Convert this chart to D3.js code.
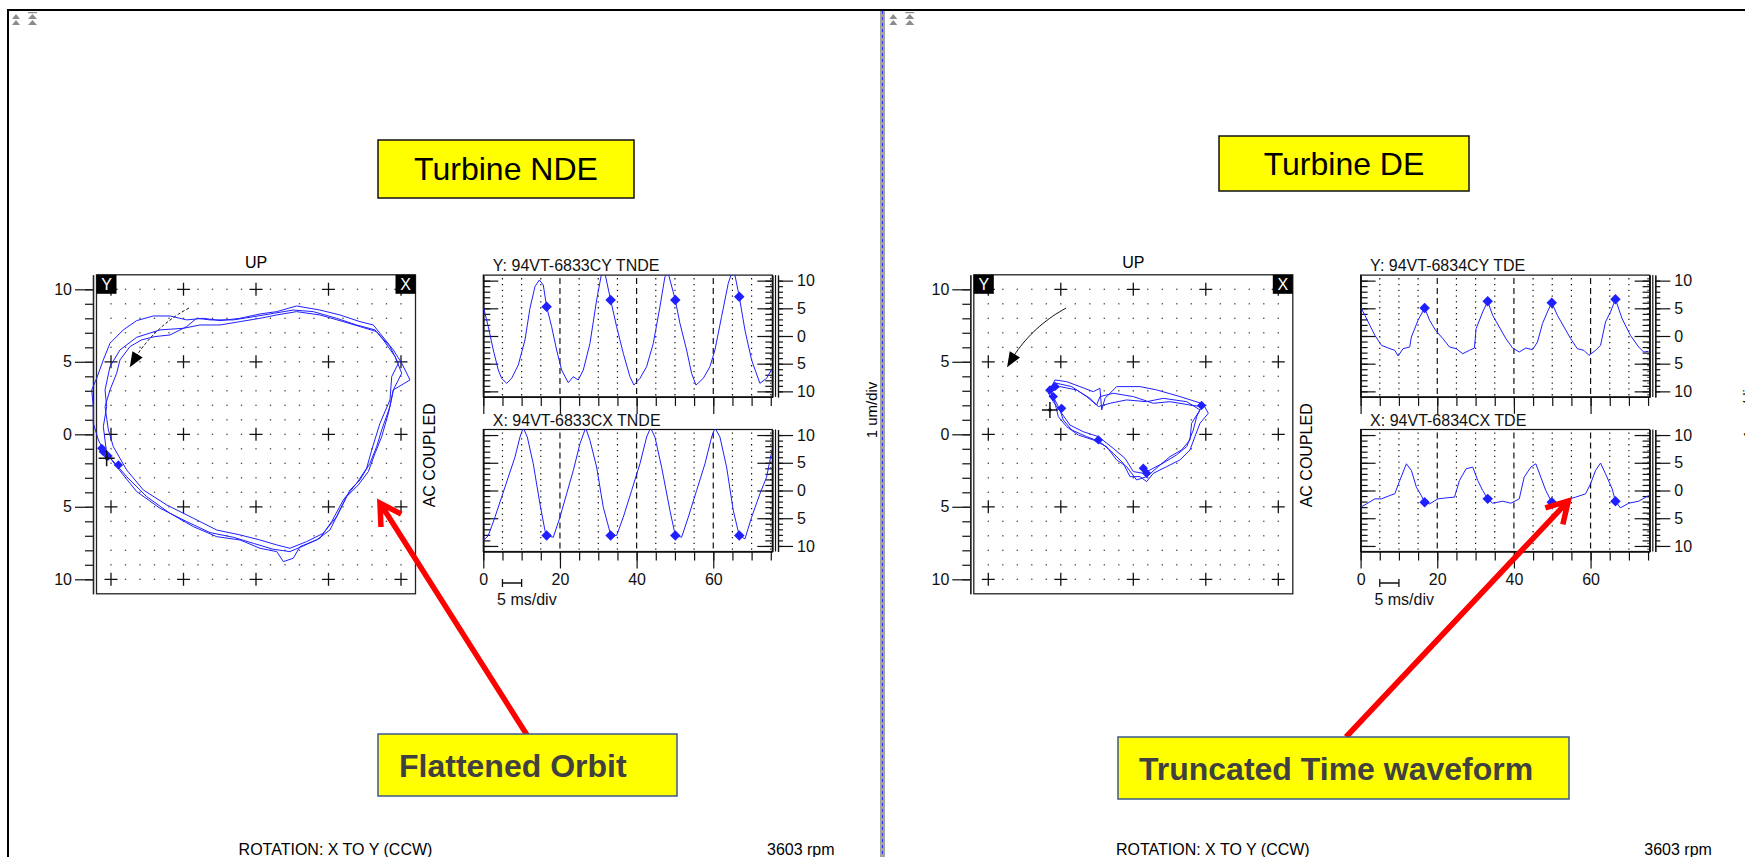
<!DOCTYPE html>
<html>
<head>
<meta charset="utf-8">
<script src="https://cdn.jsdelivr.net/npm/d3@7"></script>
<style>
  html, body { margin: 0; padding: 0; background: #fff; }
  svg { display: block; font-family: "Liberation Sans", Arial, sans-serif; }
</style>
</head>
<body>
<div id="chart"></div>
<script>
// ---- labels ----
const panelNames = ["Turbine NDE", "Turbine DE"];
const channelYNames = ["Y: 94VT-6833CY TNDE", "Y: 94VT-6834CY TDE"];
const channelXNames = ["X: 94VT-6833CX TNDE", "X: 94VT-6834CX TDE"];
const calloutTexts = ["Flattened Orbit", "Truncated Time waveform"];
const rotationText = "ROTATION: X TO Y (CCW)";
const speedText = "3603 rpm";
const scaleText = "1 um/div";

// ---- tick values ----
const ampTicks = [-10, -5, 0, 5, 10];
const timeTickLabels = [0, 20, 40, 60];

// ---- Turbine NDE orbit (x, y in um), three revolutions ----
const ndeOrbitA = [[-10.53,-1.08],[-9.72,-2.0],[-8.92,-2.92],[-7.54,-4.3],[-5.93,-5.45],[-4.32,-6.37],[-2.71,-7.06],[-1.1,-7.29],[0.28,-7.86],[1.43,-8.09],[1.89,-8.78],[2.57,-8.55],[3.03,-7.75],[4.18,-7.29],[5.1,-6.6],[5.79,-5.22],[6.48,-3.84],[7.17,-3.15],[7.86,-2.0],[8.32,-0.85],[8.67,0.3],[9.24,1.91],[9.47,3.06],[10.62,3.75],[10.05,4.9],[9.47,5.82],[8.55,6.97],[8.09,7.54],[7.17,7.77],[5.79,8.23],[4.41,8.57],[2.8,8.85],[1.43,8.46],[0.28,8.3],[-1.1,8.0],[-2.48,7.84],[-3.63,8.0],[-4.78,7.89],[-5.93,8.16],[-7.08,8.16],[-8.23,7.84],[-9.15,7.2],[-10.07,6.28],[-10.53,5.13],[-10.99,3.86],[-11.33,3.06],[-11.22,1.91],[-11.22,0.76],[-10.87,-0.39]];
const ndeOrbitB = [[-10.3,-1.31],[-9.61,-2.23],[-8.23,-3.95],[-6.62,-5.1],[-4.78,-6.02],[-3.17,-6.78],[-1.56,-7.1],[-0.18,-7.52],[1.2,-7.93],[2.34,-8.09],[3.26,-7.7],[4.41,-7.17],[5.22,-6.02],[6.02,-4.53],[6.94,-3.38],[7.63,-2.34],[7.98,-1.08],[8.55,0.76],[9.24,2.37],[9.36,3.98],[9.82,4.9],[9.24,6.05],[8.32,7.08],[7.17,7.43],[6.02,7.77],[4.41,8.23],[2.8,8.46],[1.43,8.23],[0.28,8.0],[-1.1,7.77],[-2.48,7.54],[-3.86,7.54],[-5.01,7.31],[-6.62,7.2],[-8.23,6.69],[-9.38,5.82],[-10.07,4.67],[-10.41,3.06],[-10.3,1.91],[-10.53,0.53]];
const ndeOrbitC = [[-9.84,-0.85],[-8.92,-2.46],[-7.77,-3.84],[-6.16,-4.87],[-4.32,-5.79],[-2.71,-6.6],[-1.1,-6.94],[0.28,-7.29],[1.43,-7.63],[2.34,-7.86],[3.49,-7.4],[4.64,-6.83],[5.56,-5.68],[6.25,-4.3],[7.06,-3.49],[7.75,-2.57],[8.21,-1.31],[8.67,-0.16],[9.13,1.45],[9.47,3.06],[10.05,4.21],[9.59,5.36],[8.78,6.51],[8.21,7.2],[6.94,7.54],[5.56,8.0],[3.95,8.46],[2.57,8.57],[1.2,8.34],[-0.18,8.11],[-1.56,7.89],[-3.17,7.89],[-4.09,8.0],[-4.78,7.43],[-5.93,6.85],[-6.97,6.74],[-7.89,6.51],[-8.69,6.05],[-9.38,5.13],[-9.61,4.21],[-10.07,3.06],[-10.41,1.91],[-10.18,0.3]];
const ndeOrbitMarks = [[-10.64,-0.97],[-10.53,-1.2],[-10.2,-1.5],[-9.49,-2.11]];
const ndeKeyphasor = [[-10.3,-1.66]];

// ---- Turbine DE orbit ----
const deOrbitA = [[-5.75,3.06],[-5.4,3.75],[-4.6,3.63],[-3.68,3.29],[-2.76,2.94],[-2.3,3.17],[-2.18,1.68],[-1.95,2.48],[-1.15,3.29],[0.46,3.29],[1.61,3.06],[3.22,2.6],[4.83,2.09],[5.17,1.45],[4.6,0.76],[4.25,-0.16],[3.91,-1.08],[3.22,-1.77],[2.3,-2.23],[1.38,-2.69],[0.92,-3.26],[0.46,-2.92],[-0.23,-2.92],[-0.69,-2.0],[-1.38,-1.31],[-2.3,-0.51],[-3.22,-0.16],[-4.25,0.3],[-4.83,0.99],[-5.06,1.68],[-5.52,2.6]];
const deOrbitB = [[-5.98,3.06],[-5.29,3.52],[-4.25,3.29],[-3.22,2.6],[-2.53,2.02],[-2.3,2.6],[-1.38,2.83],[0.0,2.6],[1.38,2.14],[2.53,2.25],[3.91,2.02],[4.71,1.91],[4.37,1.22],[4.14,0.3],[3.68,-0.85],[2.99,-1.42],[2.07,-1.98],[1.15,-2.46],[0.69,-2.69],[0.0,-2.57],[-0.57,-1.66],[-1.38,-0.97],[-2.41,-0.16],[-3.45,0.18],[-4.37,0.64],[-4.94,1.45],[-5.52,2.25]];
const deOrbitC = [[-5.63,2.94],[-5.06,3.29],[-3.91,3.06],[-2.99,2.48],[-2.41,1.91],[-1.61,2.14],[-0.46,2.37],[0.92,2.25],[2.07,2.48],[3.68,2.25],[4.6,1.68],[4.02,0.76],[3.91,-0.39],[3.33,-1.08],[2.53,-1.54],[1.72,-2.23],[0.92,-2.92],[0.23,-3.15],[-0.46,-2.23],[-1.15,-1.77],[-1.84,-0.85],[-2.76,-0.39],[-3.79,-0.05],[-4.6,0.53],[-5.17,1.22],[-5.4,2.14]];
const deOrbitMarks = [[-5.75,3.06],[-5.4,3.3],[-5.52,2.6],[-4.94,1.79],[-2.41,-0.39],[0.69,-2.34],[0.92,-2.69],[4.71,1.99]];
const deKeyphasor = [[-5.75,1.68]];

// ---- time waveforms (ms, um) ----
const ndeWaveY = [[0,5.3],[1.3,1.69],[2.61,-2.53],[3.91,-6.14],[4.78,-7.65],[6.09,-8.55],[7.39,-7.65],[9.13,-5.24],[10.87,-0.72],[12.17,5.0],[13.48,8.92],[14.61,10.12],[15.65,9.22],[16.52,5.3],[17.83,1.69],[19.13,-2.53],[20.43,-6.14],[22.17,-8.43],[23.48,-7.35],[24.78,-7.95],[26.09,-6.14],[27.83,-1.33],[29.57,6.51],[30.87,11.3],[31.74,11.3],[33.22,6.51],[34.78,1.69],[36.52,-3.13],[38.26,-7.35],[39.3,-8.86],[40.87,-7.65],[42.61,-5.54],[44.35,-1.33],[46.09,5.3],[47.39,10.72],[48.26,11.3],[50.09,6.51],[51.3,2.29],[53.04,-2.53],[54.35,-6.75],[55.48,-8.86],[57.39,-7.65],[59.13,-5.54],[60.43,-2.53],[62.17,3.49],[63.91,9.52],[64.78,11.3],[65.65,11.0],[66.78,7.11],[68.26,1.08],[70.0,-4.34],[72.17,-8.55],[73.91,-7.65],[75.4,-5.84]];
const ndeWaveX = [[0,-9.04],[1.3,-8.13],[3.04,-4.82],[4.78,-1.2],[6.52,2.41],[8.26,6.02],[9.57,9.64],[10.43,11.3],[11.48,9.64],[13.04,4.82],[14.78,-2.41],[16.09,-7.23],[16.52,-8.13],[18.26,-8.43],[20.0,-4.82],[21.74,-0.6],[23.48,3.61],[25.22,8.43],[26.7,11.3],[27.83,9.04],[29.57,4.22],[31.3,-3.01],[33.22,-7.95],[34.78,-8.13],[36.52,-4.82],[38.7,0.0],[40.87,4.82],[42.61,9.64],[43.65,11.3],[44.78,9.64],[46.52,4.22],[48.7,-3.61],[50.09,-8.13],[51.74,-8.43],[53.48,-4.82],[55.65,0.0],[57.83,4.82],[59.57,9.64],[60.43,11.3],[61.74,9.64],[63.48,4.22],[65.22,-3.61],[66.78,-8.13],[68.26,-8.73],[70.0,-4.82],[72.17,-0.6],[73.91,2.41],[75.4,7.53]];
const ndeMarksY = [[16.52,5.3],[33.22,6.51],[50.09,6.51],[66.78,7.11]];
const ndeMarksX = [[16.52,-8.13],[33.22,-8.1],[50.09,-8.13],[66.78,-8.13]];

const deWaveY = [[0,5.24],[1.13,3.73],[2.42,1.93],[3.72,0.12],[5.45,-1.69],[7.19,-2.17],[8.92,-2.59],[9.78,-3.61],[11.08,-2.29],[12.81,-1.99],[13.25,-0.18],[14.98,2.83],[16.71,5.06],[18.01,2.83],[19.57,1.02],[21.47,-0.48],[23.2,-1.99],[24.94,-2.29],[26.67,-3.19],[28.4,-2.59],[29.7,-2.17],[30.13,1.33],[31.86,4.34],[33.16,6.27],[34.46,3.73],[36.19,1.63],[37.92,-0.48],[39.65,-2.17],[41.39,-2.89],[43.12,-2.17],[44.85,-2.47],[46.15,-1.08],[47.45,2.23],[48.74,4.34],[49.87,6.02],[51.34,3.73],[53.07,1.63],[54.81,-0.48],[56.54,-2.29],[58.27,-2.59],[59.57,-3.49],[61.3,-2.59],[62.6,-1.69],[63.9,2.53],[65.19,4.34],[66.49,6.63],[68.23,3.13],[70.39,0.12],[72.55,-1.99],[73.85,-2.89],[75.15,-2.77]];
const deWaveX = [[0,-3.01],[1.56,-2.41],[3.72,-1.51],[5.45,-1.51],[7.62,-0.9],[8.92,-0.6],[10.22,1.81],[11.95,4.82],[13.25,3.61],[14.55,0.6],[15.84,-0.9],[16.71,-2.11],[18.01,-2.41],[20.17,-1.51],[22.34,-1.33],[24.5,-1.2],[25.8,1.81],[27.53,3.92],[29.26,4.22],[30.56,1.81],[31.86,0.0],[33.16,-1.51],[34.46,-2.29],[37.06,-1.93],[39.22,-2.29],[41.39,-1.51],[42.68,2.41],[44.42,4.22],[45.71,4.82],[47.01,2.41],[48.31,0.0],[49.87,-2.11],[51.77,-2.41],[53.5,-1.69],[56.1,-1.2],[58.7,-0.6],[59.99,1.2],[61.3,3.61],[62.6,4.94],[63.9,3.01],[65.63,0.3],[66.49,-1.93],[67.79,-3.13],[69.96,-2.29],[72.55,-1.93],[75.15,-0.9]];
const deMarksY = [[16.71,5.06],[33.16,6.27],[49.87,6.02],[66.49,6.63]];
const deMarksX = [[16.71,-2.11],[33.16,-1.51],[49.87,-2.11],[66.49,-1.93]];

// ---- where the red callout arrows point (in data units) ----
const ndeCalloutTarget = [8.55, -4.74];   // orbit x, y
const deCalloutTarget = [54.2, -1.88];    // time ms, X amplitude

const TRACE = "#1f1fff";
const W = 1745, H = 857;

const svg = d3.select("#chart").append("svg")
    .attr("width", W)
    .attr("height", H);

// shared scales (panel-local coordinates)
const ox = d3.scaleLinear().domain([-11, 11]).range([96.5, 415.5]);
const oy = d3.scaleLinear().domain([-11, 11]).range([593.8, 274.8]);
const tx = d3.scaleLinear().domain([0, 75.4]).range([483.3, 772.3]);
const yUpper = d3.scaleLinear().domain([-11, 11]).range([396.9, 275.1]);
const yLower = d3.scaleLinear().domain([-11, 11]).range([551.5, 429.5]);

const panels = [
    {dx: 0, id: "nde", name: panelNames[0], titleBox: [378, 140, 256, 58],
     loops: [ndeOrbitA, ndeOrbitB, ndeOrbitC], orbitMarks: ndeOrbitMarks, kp: ndeKeyphasor, arrowDash: "3,2",
     waveY: ndeWaveY, waveX: ndeWaveX, marksY: ndeMarksY, marksX: ndeMarksX,
     nameY: channelYNames[0], nameX: channelXNames[0],
     callout: calloutTexts[0], calloutBox: [378, 734, 299, 62], calloutFrom: [527, 735],
     calloutTip: () => [ox(ndeCalloutTarget[0]), oy(ndeCalloutTarget[1])]},
    {dx: 877.3, id: "de", name: panelNames[1], titleBox: [341.7, 136, 250, 55],
     loops: [deOrbitA, deOrbitB, deOrbitC], orbitMarks: deOrbitMarks, kp: deKeyphasor, arrowDash: null,
     waveY: deWaveY, waveX: deWaveX, marksY: deMarksY, marksX: deMarksX,
     nameY: channelYNames[1], nameX: channelXNames[1],
     callout: calloutTexts[1], calloutBox: [240.7, 737, 451, 62], calloutFrom: [468.7, 737],
     calloutTip: () => [tx(deCalloutTarget[0]), yLower(deCalloutTarget[1])]}
];

// page frame
svg.append("line").attr("x1", 7).attr("x2", W).attr("y1", 10).attr("y2", 10)
    .attr("stroke", "#000").attr("stroke-width", 2);
svg.append("line").attr("x1", 8).attr("x2", 8).attr("y1", 9).attr("y2", H)
    .attr("stroke", "#000").attr("stroke-width", 2);

panels.forEach(drawPanel);

// splitter between the two panels
svg.append("rect").attr("x", 880).attr("y", 11).attr("width", 5).attr("height", H - 11)
    .attr("fill", "#a3a3a3");
svg.append("line").attr("x1", 882.5).attr("x2", 882.5).attr("y1", 11).attr("y2", H)
    .attr("stroke", "#2233ff").attr("stroke-width", 1).attr("stroke-dasharray", "3,3");

function drawIcons(g) {
    const icon = g.append("g").attr("fill", "#8c8c8c");
    icon.append("path").attr("d", "M12,19 L16,14 L20,19 Z M12,25 L16,20 L20,25 Z");
    icon.append("rect").attr("x", 28).attr("y", 12).attr("width", 9).attr("height", 1.2);
    icon.append("path").attr("d", "M28,19 L32.5,14 L37,19 Z M28,25 L32.5,20 L37,25 Z");
}

function drawPanel(p) {
    const g = svg.append("g").attr("transform", `translate(${p.dx},0)`);
    drawIcons(g);

    // yellow title box
    const tb = p.titleBox;
    g.append("rect")
        .attr("x", tb[0]).attr("y", tb[1]).attr("width", tb[2]).attr("height", tb[3])
        .attr("fill", "#ffff00").attr("stroke", "#111").attr("stroke-width", 1.5);
    g.append("text")
        .attr("x", tb[0] + tb[2] / 2).attr("y", tb[1] + tb[3] / 2 + 11)
        .attr("text-anchor", "middle")
        .attr("font-size", 32)
        .text(p.name);

    drawOrbit(g, p);
    drawWave(g, p, yUpper, p.waveY, p.marksY, p.nameY, false, "u");
    drawWave(g, p, yLower, p.waveX, p.marksX, p.nameX, true, "l");

    // footer
    g.append("text").attr("x", 335.5).attr("y", 855)
        .attr("text-anchor", "middle").attr("font-size", 16)
        .text(rotationText);
    g.append("text").attr("x", 767).attr("y", 855)
        .attr("font-size", 16)
        .text(speedText);

    // rotated scale label at the right of the panel
    g.append("text")
        .attr("transform", "translate(877,410) rotate(-90)")
        .attr("text-anchor", "middle").attr("font-size", 15)
        .text(scaleText);

    // callout
    const cb = p.calloutBox;
    const tip = p.calloutTip();
    const from = p.calloutFrom;
    const ang = Math.atan2(from[1] - tip[1], from[0] - tip[0]);
    const head = 24, spread = Math.PI / 6;
    const w1 = [tip[0] + head * Math.cos(ang + spread), tip[1] + head * Math.sin(ang + spread)];
    const w2 = [tip[0] + head * Math.cos(ang - spread), tip[1] + head * Math.sin(ang - spread)];
    g.append("path")
        .attr("d", `M${from[0]},${from[1]} L${tip[0]},${tip[1]} M${w1[0]},${w1[1]} L${tip[0]},${tip[1]} L${w2[0]},${w2[1]}`)
        .attr("fill", "none").attr("stroke", "#ff0000").attr("stroke-width", 5.5)
        .attr("stroke-linecap", "butt").attr("stroke-linejoin", "miter");

    g.append("rect")
        .attr("x", cb[0]).attr("y", cb[1]).attr("width", cb[2]).attr("height", cb[3])
        .attr("fill", "#ffff00").attr("stroke", "#3b5a8c").attr("stroke-width", 1.5);
    g.append("text")
        .attr("x", cb[0] + 21).attr("y", cb[1] + cb[3] / 2 + 12)
        .attr("font-size", 32).attr("font-weight", "bold").attr("fill", "#404040")
        .text(p.callout);
}

function drawOrbit(g, p) {
    const o = g.append("g");
    const x0 = ox(-11), x1 = ox(11), y0 = oy(11), y1 = oy(-11);

    // dotted grid with crosses every 5 units
    const grid = o.append("g");
    d3.range(-10, 11).forEach(i => {
        d3.range(-10, 11).forEach(j => {
            if (i % 5 === 0 && j % 5 === 0) {
                grid.append("path")
                    .attr("d", `M${ox(i) - 6.5},${oy(j)}H${ox(i) + 6.5}M${ox(i)},${oy(j) - 6.5}V${oy(j) + 6.5}`)
                    .attr("stroke", "#111").attr("stroke-width", 1.3);
            } else {
                grid.append("rect")
                    .attr("x", ox(i) - 0.65).attr("y", oy(j) - 0.65)
                    .attr("width", 1.3).attr("height", 1.3)
                    .attr("fill", "#444");
            }
        });
    });

    o.append("rect")
        .attr("x", x0).attr("y", y0).attr("width", x1 - x0).attr("height", y1 - y0)
        .attr("fill", "none").attr("stroke", "#222").attr("stroke-width", 1.3);

    // y axis (double line at the left)
    const axX = x0 - 3.5;
    o.append("g").attr("transform", `translate(${axX},0)`)
        .call(d3.axisLeft(oy).tickValues(d3.range(-10, 11)).tickSize(8).tickSizeOuter(0).tickFormat(""))
        .call(a => a.selectAll("line,path").attr("stroke", "#222").attr("stroke-width", 1.3));
    o.append("g").attr("transform", `translate(${axX},0)`)
        .call(d3.axisLeft(oy).tickValues(ampTicks).tickSize(18).tickSizeOuter(0).tickPadding(3)
            .tickFormat(d => Math.abs(d)))
        .call(a => a.selectAll("line,path").attr("stroke", "#222").attr("stroke-width", 1.3))
        .call(a => a.selectAll("text").attr("font-size", 16).attr("fill", "#111")
            .attr("font-family", "Liberation Sans, Arial, sans-serif"));

    // corner labels
    [["Y", x0], ["X", x1 - 20]].forEach(([t, x]) => {
        o.append("rect").attr("x", x).attr("y", y0).attr("width", 20).attr("height", 19).attr("fill", "#000");
        o.append("text").attr("x", x + 10).attr("y", y0 + 15.5).attr("text-anchor", "middle")
            .attr("fill", "#fff").attr("font-size", 16).text(t);
    });
    o.append("text").attr("x", ox(0)).attr("y", y0 - 7).attr("text-anchor", "middle")
        .attr("font-size", 16).text("UP");
    o.append("text").attr("transform", `translate(${x1 + 19},${oy(-1.45)}) rotate(-90)`)
        .attr("text-anchor", "middle").attr("font-size", 16).text("AC COUPLED");

    // rotation arrow (arc, drawn in screen units around the orbit centre)
    const r = ox(9.86) - ox(0);
    const a0 = 118 * Math.PI / 180, a1 = 150 * Math.PI / 180;
    const arcPts = d3.range(0, 1.0001, 0.05).map(f => {
        const a = a0 + (a1 - a0) * f;
        return [ox(0) + r * Math.cos(a), oy(0) - r * Math.sin(a)];
    });
    o.append("path").attr("d", d3.line()(arcPts))
        .attr("fill", "none").attr("stroke", "#111").attr("stroke-width", 1)
        .attr("stroke-dasharray", p.arrowDash);
    const aTip = 152 * Math.PI / 180;
    const tipPt = [ox(0) + r * Math.cos(aTip), oy(0) - r * Math.sin(aTip)];
    const tang = Math.atan2(tipPt[1] - arcPts[arcPts.length - 4][1], tipPt[0] - arcPts[arcPts.length - 4][0]);
    const hl = 15, hw = 6;
    const bx = tipPt[0] - hl * Math.cos(tang), by = tipPt[1] - hl * Math.sin(tang);
    o.append("path")
        .attr("d", `M${tipPt[0]},${tipPt[1]} L${bx + hw * Math.sin(tang)},${by - hw * Math.cos(tang)} L${bx - hw * Math.sin(tang)},${by + hw * Math.cos(tang)} Z`)
        .attr("fill", "#000");

    // orbit traces
    const line = d3.line().x(d => ox(d[0])).y(d => oy(d[1])).curve(d3.curveLinearClosed);
    o.selectAll(".loop").data(p.loops).enter().append("path")
        .attr("class", "loop")
        .attr("d", line)
        .attr("fill", "none").attr("stroke", TRACE).attr("stroke-width", 1);

    o.selectAll(".omark").data(p.orbitMarks).enter().append("path")
        .attr("class", "omark")
        .attr("transform", d => `translate(${ox(d[0])},${oy(d[1])})`)
        .attr("d", d3.symbol(d3.symbolDiamond2, 55))
        .attr("fill", TRACE);

    p.kp.forEach(d => {
        o.append("path")
            .attr("d", `M${ox(d[0]) - 8},${oy(d[1])}H${ox(d[0]) + 8}M${ox(d[0])},${oy(d[1]) - 8}V${oy(d[1]) + 8}`)
            .attr("stroke", "#111").attr("stroke-width", 1.5);
        o.append("path")
            .attr("transform", `translate(${ox(d[0])},${oy(d[1])})`)
            .attr("d", d3.symbol(d3.symbolDiamond2, 14))
            .attr("fill", "#111");
    });
}

function drawWave(g, p, ys, data, marks, name, showTime, tag) {
    const w = g.append("g");
    const left = tx(0), right = tx(75.4), top = ys(11), bottom = ys(-11);
    const clipId = `clip-${p.id}-${tag}`;
    w.append("clipPath").attr("id", clipId).append("rect")
        .attr("x", left).attr("y", top).attr("width", right - left).attr("height", bottom - top);

    // time grid
    w.selectAll(".tg").data(d3.range(5, 76, 5)).enter().append("line")
        .attr("x1", d => tx(d)).attr("x2", d => tx(d))
        .attr("y1", top + 3).attr("y2", bottom)
        .attr("stroke", "#111").attr("stroke-width", 1.2)
        .attr("stroke-dasharray", d => d % 20 === 0 ? "6,4" : "1.3,4.5");

    const styleAxis = a => a.selectAll("line,path").attr("stroke", "#111").attr("stroke-width", 1.2);

    // inside ladders
    w.append("g").attr("transform", `translate(${left},0)`)
        .call(d3.axisRight(ys).tickValues(d3.range(-10, 11)).tickSize(7).tickSizeOuter(0).tickFormat(""))
        .call(styleAxis);
    w.append("g").attr("transform", `translate(${left},0)`)
        .call(d3.axisRight(ys).tickValues(ampTicks).tickSize(15).tickSizeOuter(0).tickFormat(""))
        .call(styleAxis);
    w.append("g").attr("transform", `translate(${right},0)`)
        .call(d3.axisLeft(ys).tickValues(d3.range(-10, 11)).tickSize(7).tickSizeOuter(0).tickFormat(""))
        .call(styleAxis);
    w.append("g").attr("transform", `translate(${right},0)`)
        .call(d3.axisLeft(ys).tickValues(ampTicks).tickSize(15).tickSizeOuter(0).tickFormat(""))
        .call(styleAxis);

    // outer amplitude axis (double line)
    w.append("line").attr("x1", right + 3.2).attr("x2", right + 3.2).attr("y1", top).attr("y2", bottom)
        .attr("stroke", "#111").attr("stroke-width", 1.2);
    w.append("g").attr("transform", `translate(${right + 5.7},0)`)
        .call(d3.axisRight(ys).tickValues(d3.range(-10, 11)).tickSize(5).tickSizeOuter(0).tickFormat(""))
        .call(styleAxis);
    w.append("g").attr("transform", `translate(${right + 5.7},0)`)
        .call(d3.axisRight(ys).tickValues(ampTicks).tickSize(15).tickSizeOuter(0).tickPadding(4)
            .tickFormat(d => Math.abs(d)))
        .call(styleAxis)
        .call(a => a.selectAll("text").attr("font-size", 16).attr("fill", "#111")
            .attr("font-family", "Liberation Sans, Arial, sans-serif"));

    // time ticks under the box
    w.append("g").attr("transform", `translate(0,${bottom})`)
        .call(d3.axisBottom(tx).tickValues(d3.range(0, 76, 5)).tickSize(9).tickSizeOuter(0).tickFormat(""))
        .call(styleAxis);
    w.append("g").attr("transform", `translate(0,${bottom})`)
        .call(d3.axisBottom(tx).tickValues(timeTickLabels).tickSize(17).tickSizeOuter(0).tickPadding(5)
            .tickFormat(showTime ? d => d : ""))
        .call(styleAxis)
        .call(a => a.selectAll("text").attr("font-size", 16).attr("fill", "#111")
            .attr("font-family", "Liberation Sans, Arial, sans-serif"));

    w.append("rect")
        .attr("x", left).attr("y", top).attr("width", right - left).attr("height", bottom - top)
        .attr("fill", "none").attr("stroke", "#111").attr("stroke-width", 1.2);

    // waveform
    w.append("path").datum(data)
        .attr("clip-path", `url(#${clipId})`)
        .attr("d", d3.line().x(d => tx(d[0])).y(d => ys(d[1])))
        .attr("fill", "none").attr("stroke", TRACE).attr("stroke-width", 1);
    w.selectAll(".wm").data(marks).enter().append("path")
        .attr("class", "wm")
        .attr("transform", d => `translate(${tx(d[0])},${ys(d[1])})`)
        .attr("d", d3.symbol(d3.symbolDiamond2, 70))
        .attr("fill", TRACE);

    w.append("text").attr("x", left + 9.5).attr("y", top - 4)
        .attr("font-size", 16).attr("fill", "#111").text(name);

    if (showTime) {
        const sy = 583;
        w.append("path")
            .attr("d", `M${tx(5)},${sy}H${tx(10)}M${tx(5)},${sy - 4}V${sy + 4}M${tx(10)},${sy - 4}V${sy + 4}`)
            .attr("stroke", "#111").attr("stroke-width", 1.3);
        w.append("text").attr("x", tx(3.6)).attr("y", 605)
            .attr("font-size", 16).attr("fill", "#111").text("5 ms/div");
    }
}
</script>
</body>
</html>
